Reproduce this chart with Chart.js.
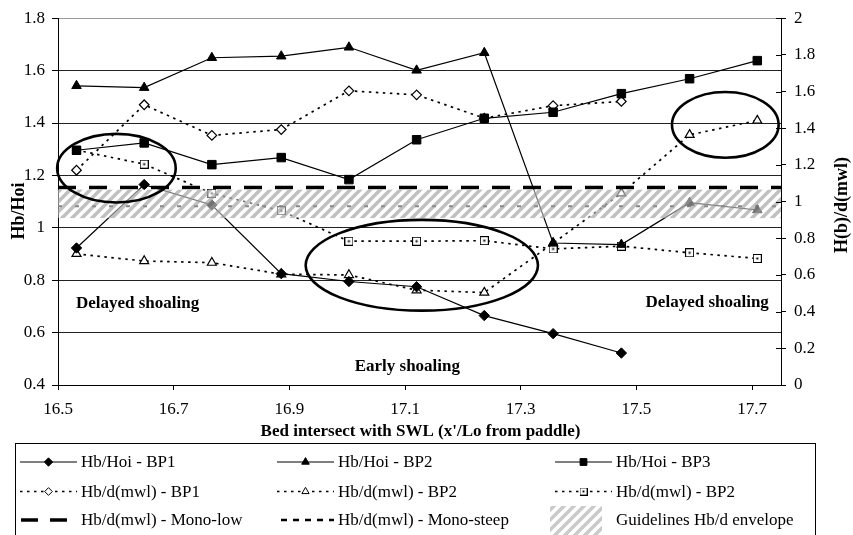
<!DOCTYPE html>
<html>
<head>
<meta charset="utf-8">
<script src="https://cdn.jsdelivr.net/npm/chart.js@4.4.1/dist/chart.umd.min.js"></script>
<style>
  html, body { margin: 0; padding: 0; background: #fff; }
  canvas { display: block; }
</style>
</head>
<body>
<canvas id="chart" width="853" height="535"></canvas>
<script>
// Bed intersect positions (x'/Lo from paddle)
const positions = [16.532, 16.649, 16.766, 16.886, 17.003, 17.120, 17.237, 17.356, 17.474, 17.592, 17.709];

// Hb/Hoi (left axis)
const hoiBP1 = [0.923, 1.165, 1.087, 0.825, 0.795, 0.775, 0.665, 0.596, 0.522, null, null];
const hoiBP2 = [1.542, 1.535, 1.649, 1.655, 1.689, 1.601, 1.668, 0.942, 0.936, 1.096, 1.068];
const hoiBP3 = [1.296, 1.324, 1.241, 1.268, 1.184, 1.336, 1.418, 1.441, 1.512, 1.569, 1.638];

// Hb/d(mwl) (right axis)
const dmwlBP1 = [1.171, 1.528, 1.361, 1.393, 1.604, 1.582, 1.455, 1.523, 1.546, null, null];
const dmwlBP2 = [0.715, 0.676, 0.667, 0.604, 0.600, 0.517, 0.504, 0.773, 1.045, 1.364, 1.442];
const dmwlBP2b = [1.281, 1.204, 1.045, 0.950, 0.784, 0.784, 0.787, 0.742, 0.757, 0.721, 0.690];

// Monochromatic reference levels and guideline envelope (Hb/d)
const monoLow = 1.077;
const monoSteep = 0.975;
const envelope = [0.91, 1.065];

// Axes
const xRange = [16.5, 17.75];
const xTicks = [16.5, 16.7, 16.9, 17.1, 17.3, 17.5, 17.7];
const hoiRange = [0.4, 1.8];
const ratioRange = [0, 2];
const tickStep = 0.2;

// Highlighted regions (x, Hb/Hoi units) and zone notes
const zones = [
  { cx: 16.601, cy: 1.2275, rx: 0.1025, ry: 0.131 },
  { cx: 17.129, cy: 0.857, rx: 0.2008, ry: 0.1733 },
  { cx: 17.6537, cy: 1.393, rx: 0.0922, ry: 0.1256 }
];
const zoneNotes = [
  { text: 'Delayed shoaling', x: 16.531, y: 0.71, align: 'left' },
  { text: 'Early shoaling', x: 17.104, y: 0.469, align: 'center' },
  { text: 'Delayed shoaling', x: 17.729, y: 0.715, align: 'right' }
];

const SERIF = '"Liberation Serif", "Times New Roman", serif';

function pts(arr) { return positions.map((x, i) => ({ x: x, y: arr[i] })); }
function span(v) { return [{ x: xRange[0], y: v }, { x: xRange[1], y: v }]; }
function fmt(v) { return String(Math.round(v * 10) / 10); }

// open square with a centre dot
function boxDot() {
  const c = document.createElement('canvas');
  c.width = 9; c.height = 9;
  const g = c.getContext('2d');
  g.fillStyle = '#fff'; g.fillRect(0, 0, 9, 9);
  g.strokeStyle = '#000'; g.lineWidth = 1; g.strokeRect(0.5, 0.5, 8, 8);
  g.fillStyle = '#000'; g.fillRect(3.5, 3.5, 2, 2);
  return c;
}
const boxDotImg = boxDot();

function hatch(ctx, alpha) {
  const s = 10;
  const c = document.createElement('canvas');
  c.width = s; c.height = s;
  const g = c.getContext('2d');
  g.strokeStyle = 'rgba(150,150,150,' + alpha + ')';
  g.lineWidth = 3.5;
  g.beginPath();
  g.moveTo(-2, s + 2); g.lineTo(s + 2, -2);
  g.moveTo(-2, 2); g.lineTo(2, -2);
  g.moveTo(s - 2, s + 2); g.lineTo(s + 2, s - 2);
  g.stroke();
  return ctx.createPattern(c, 'repeat');
}

const solid = { borderColor: '#000', borderWidth: 1.2, showLine: true, fill: false, tension: 0 };
const dotted = { borderColor: '#000', borderWidth: 1.7, borderDash: [2.5, 4.5], showLine: true, fill: false, tension: 0 };

const datasets = [
  Object.assign({ label: 'Hb/Hoi - BP1', data: pts(hoiBP1), yAxisID: 'y', pointStyle: 'rectRot', pointRadius: 5.2, pointBackgroundColor: '#000', pointBorderColor: '#000', pointBorderWidth: 1 }, solid),
  Object.assign({ label: 'Hb/Hoi - BP2', data: pts(hoiBP2), yAxisID: 'y', pointStyle: 'triangle', pointRadius: 5.5, pointBackgroundColor: '#000', pointBorderColor: '#000', pointBorderWidth: 1 }, solid),
  Object.assign({ label: 'Hb/Hoi - BP3', data: pts(hoiBP3), yAxisID: 'y', pointStyle: 'rect', pointRadius: 6, pointBackgroundColor: '#000', pointBorderColor: '#000', pointBorderWidth: 1 }, solid),
  Object.assign({ label: 'Hb/d(mwl) - BP1', data: pts(dmwlBP1), yAxisID: 'y1', pointStyle: 'rectRot', pointRadius: 4.8, pointBackgroundColor: '#fff', pointBorderColor: '#000', pointBorderWidth: 1.2 }, dotted),
  Object.assign({ label: 'Hb/d(mwl) - BP2', data: pts(dmwlBP2), yAxisID: 'y1', pointStyle: 'triangle', pointRadius: 5.2, pointBackgroundColor: '#fff', pointBorderColor: '#000', pointBorderWidth: 1.2 }, dotted),
  Object.assign({ label: 'Hb/d(mwl) - BP2', data: pts(dmwlBP2b), yAxisID: 'y1', pointStyle: boxDotImg, pointRadius: 5, pointBackgroundColor: '#fff', pointBorderColor: '#000' }, dotted),
  { label: 'Hb/d(mwl) - Mono-low', data: span(monoLow), yAxisID: 'y1', showLine: true, borderColor: '#000', borderWidth: 3.5, borderDash: [18, 13], pointRadius: 0, fill: false },
  { label: 'Hb/d(mwl) - Mono-steep', data: span(monoSteep), yAxisID: 'y1', showLine: true, borderColor: '#222', borderWidth: 2, borderDash: [4, 13], pointRadius: 0, fill: false }
];

const decor = {
  id: 'decor',
  afterDatasetsDraw(chart) {
    const { ctx, chartArea: a, scales } = chart;
    const x = scales.x, y = scales.y, y1 = scales.y1;
    // guideline envelope band, laid over the series
    const top = y1.getPixelForValue(envelope[1]);
    const bot = y1.getPixelForValue(envelope[0]);
    ctx.save();
    ctx.fillStyle = 'rgba(255,255,255,0.45)';
    ctx.fillRect(a.left, top, a.right - a.left, bot - top);
    ctx.fillStyle = hatch(ctx, 0.6);
    ctx.fillRect(a.left, top, a.right - a.left, bot - top);
    ctx.restore();

    // highlighted regions
    ctx.save();
    ctx.strokeStyle = '#000';
    ctx.lineWidth = 2.6;
    zones.forEach(z => {
      const cx = x.getPixelForValue(z.cx), cy = y.getPixelForValue(z.cy);
      const rx = Math.abs(x.getPixelForValue(z.cx + z.rx) - cx);
      const ry = Math.abs(y.getPixelForValue(z.cy + z.ry) - cy);
      ctx.beginPath();
      ctx.ellipse(cx, cy, rx, ry, 0, 0, Math.PI * 2);
      ctx.stroke();
    });
    ctx.fillStyle = '#000';
    ctx.font = 'bold 17px ' + SERIF;
    ctx.textBaseline = 'middle';
    zoneNotes.forEach(n => {
      ctx.textAlign = n.align;
      ctx.fillText(n.text, x.getPixelForValue(n.x), y.getPixelForValue(n.y));
    });
    ctx.restore();
  },
  afterDraw(chart) {
    const { ctx, chartArea: a, scales } = chart;
    const y1 = scales.y1;
    ctx.save();
    // inner halves of right-axis tick marks
    ctx.strokeStyle = '#000';
    ctx.lineWidth = 1;
    y1.ticks.forEach(t => {
      const py = Math.round(y1.getPixelForValue(t.value)) + 0.5;
      ctx.beginPath(); ctx.moveTo(a.right - 5, py); ctx.lineTo(a.right, py); ctx.stroke();
    });

    // axis titles
    ctx.fillStyle = '#000';
    ctx.font = 'bold 17px ' + SERIF;
    ctx.textAlign = 'center';
    ctx.textBaseline = 'middle';
    ctx.fillText("Bed intersect with SWL (x'/Lo from paddle)", (a.left + a.right) / 2 + 1, 432);
    ctx.save();
    ctx.translate(19.5, 211);
    ctx.rotate(-Math.PI / 2);
    ctx.font = 'bold 18px ' + SERIF;
    ctx.fillText('Hb/Hoi', 0, 0);
    ctx.restore();
    ctx.save();
    ctx.translate(842, 205);
    ctx.rotate(-Math.PI / 2);
    ctx.font = 'bold 18px ' + SERIF;
    ctx.fillText('H(b)/d(mwl)', 0, 0);
    ctx.restore();

    // legend
    ctx.strokeStyle = '#000';
    ctx.lineWidth = 1;
    ctx.strokeRect(15.5, 443.5, 800, 100);
    const cols = [20, 277, 555];
    const rows = [462, 491.5, 520];
    const lineLen = 57;
    const ds = chart.data.datasets;
    const items = [
      [ds[0], 0, 0], [ds[1], 1, 0], [ds[2], 2, 0],
      [ds[3], 0, 1], [ds[4], 1, 1], [ds[5], 2, 1],
      [ds[6], 0, 2], [ds[7], 1, 2], [null, 2, 2]
    ];
    items.forEach(([d, c, r]) => {
      const x0 = cols[c], yy = rows[r];
      ctx.save();
      if (d) {
        ctx.strokeStyle = '#000';
        ctx.lineWidth = d.borderWidth;
        let dash = d.borderDash || [];
        if (d.label.indexOf('Mono-steep') >= 0) { dash = [6, 6]; ctx.lineWidth = 2.5; }
        if (d.label.indexOf('Mono-low') >= 0) { dash = [17, 12]; }
        ctx.setLineDash(dash);
        ctx.beginPath();
        if (d.label.indexOf('Mono-low') >= 0) { ctx.moveTo(x0 + 1, yy); ctx.lineTo(x0 + lineLen, yy); }
        else if (d.label.indexOf('Mono-steep') >= 0) { ctx.moveTo(x0 + 4, yy); ctx.lineTo(x0 + lineLen, yy); }
        else { ctx.moveTo(x0, yy); ctx.lineTo(x0 + lineLen, yy); }
        ctx.stroke();
        ctx.setLineDash([]);
        if (d.pointRadius) {
          const mx = x0 + lineLen / 2;
          if (d.pointStyle instanceof HTMLCanvasElement) {
            ctx.drawImage(d.pointStyle, mx - 4, yy - 4, 8, 8);
          } else {
            ctx.fillStyle = d.pointBackgroundColor;
            ctx.strokeStyle = d.pointBorderColor;
            ctx.lineWidth = 1;
            Chart.helpers.drawPoint(ctx, { pointStyle: d.pointStyle, radius: d.pointRadius * 0.8, borderWidth: 1, rotation: 0 }, mx, yy);
          }
        }
      } else {
        ctx.fillStyle = hatch(ctx, 0.5);
        ctx.fillRect(x0 - 5, 506, 52, 29);
      }
      ctx.restore();
      ctx.fillStyle = '#000';
      ctx.font = '17px ' + SERIF;
      ctx.textAlign = 'left';
      ctx.textBaseline = 'middle';
      const label = d ? d.label : 'Guidelines Hb/d envelope';
      ctx.fillText(label, x0 + lineLen + 4, yy + 1);
    });
    ctx.restore();
  }
};

const tickFont = { family: SERIF, size: 17 };

new Chart(document.getElementById('chart'), {
  type: 'scatter',
  data: { datasets: datasets },
  options: {
    responsive: false,
    animation: false,
    layout: { padding: { top: 15, bottom: 110, left: 0, right: 0 } },
    plugins: { legend: { display: false }, tooltip: { enabled: false } },
    scales: {
      x: {
        type: 'linear',
        min: xRange[0], max: xRange[1],
        afterBuildTicks: s => { s.ticks = xTicks.map(v => ({ value: v })); },
        afterFit: s => { s.height = 40; },
        ticks: { font: tickFont, color: '#000', padding: 9, maxRotation: 0, callback: v => fmt(v) },
        grid: { drawOnChartArea: false, tickLength: 5, color: '#000' },
        border: { color: '#000', width: 1 }
      },
      y: {
        position: 'left',
        min: hoiRange[0], max: hoiRange[1],
        afterFit: s => { s.width = 58; },
        ticks: { stepSize: tickStep, font: tickFont, color: '#000', padding: 7, callback: v => fmt(v) },
        grid: {
          color: c => (Math.abs(c.tick.value - hoiRange[1]) < 1e-6 ? '#999' : '#222'),
          tickColor: '#000', tickLength: 6, lineWidth: 1
        },
        border: { color: '#000', width: 1 }
      },
      y1: {
        position: 'right',
        min: ratioRange[0], max: ratioRange[1],
        afterFit: s => { s.width = 72; },
        ticks: { stepSize: tickStep, font: tickFont, color: '#000', padding: 8, callback: v => fmt(v) },
        grid: { drawOnChartArea: false, tickLength: 5, color: '#000' },
        border: { color: '#000', width: 1 }
      }
    }
  },
  plugins: [decor]
});
</script>
</body>
</html>
